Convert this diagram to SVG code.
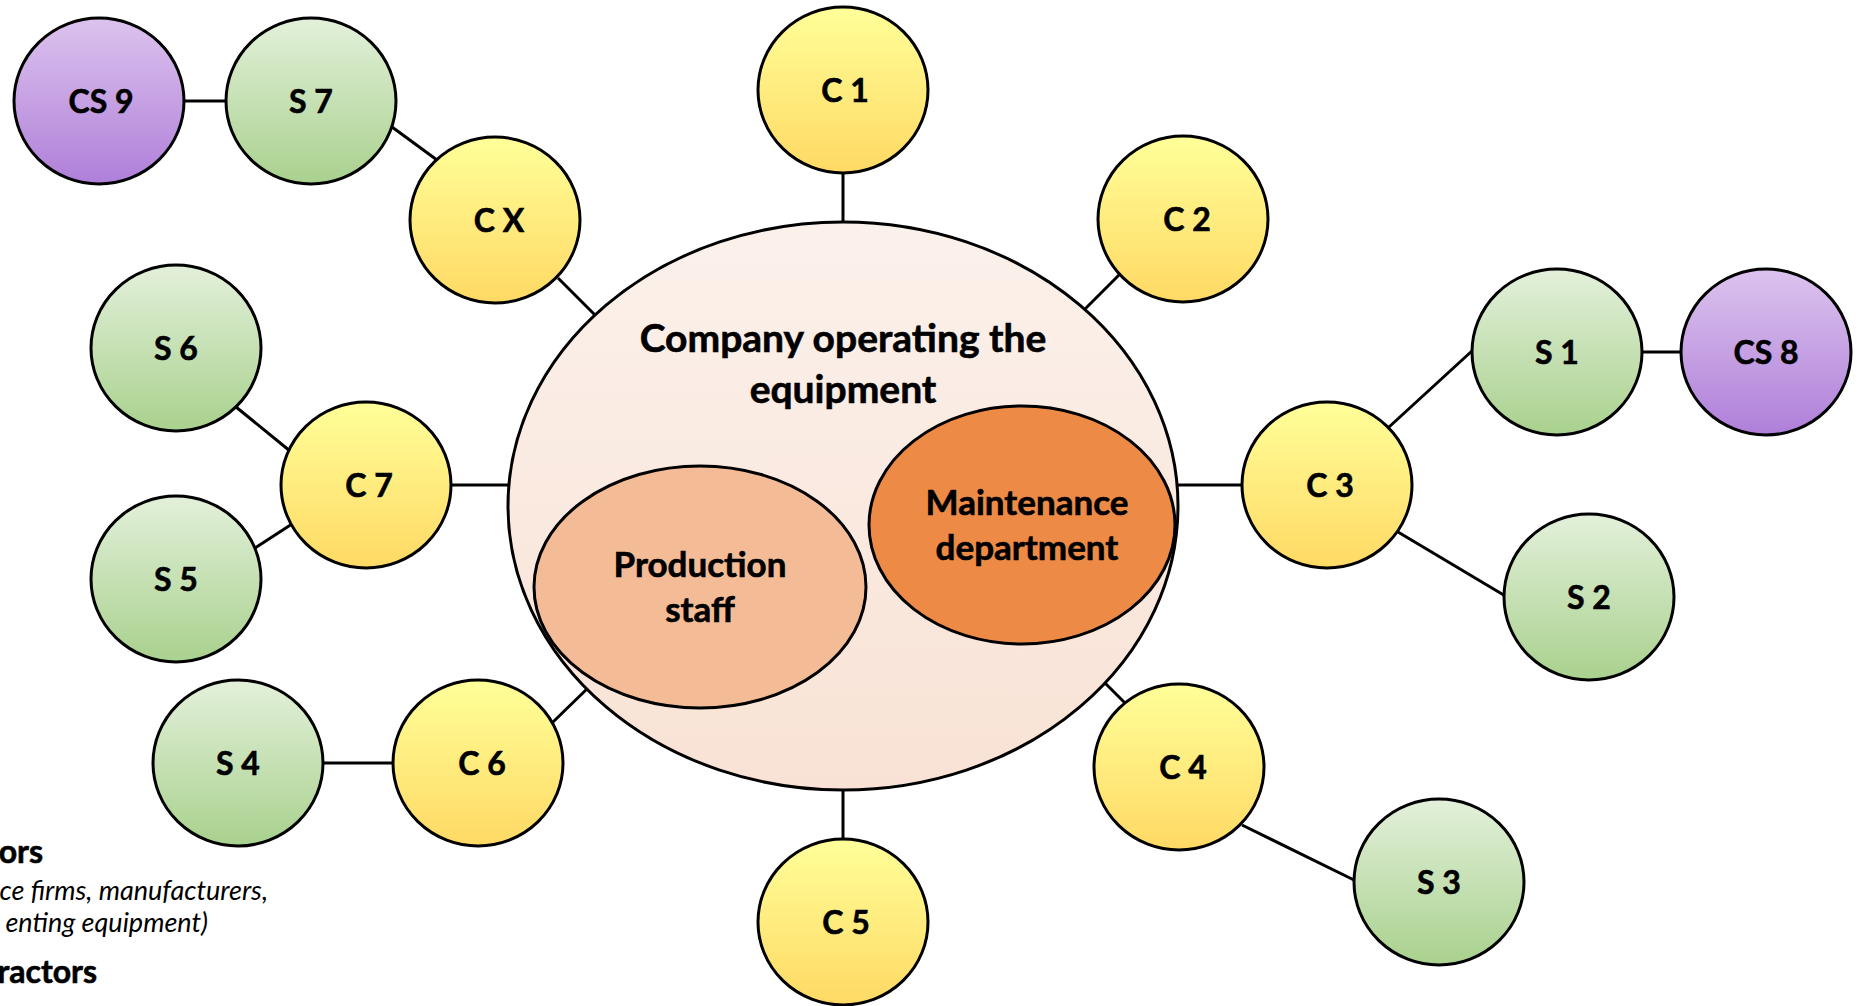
<svg xmlns="http://www.w3.org/2000/svg" width="1861" height="1006" viewBox="0 0 1861 1006">
  <style>
    .node { stroke: #000; stroke-width: 3; }
    .yel { fill: url(#gYellow); }
    .grn { fill: url(#gGreen); }
    .pur { fill: url(#gPurple); }
    .lbl, .big, .leg { font-family: Lato, "Open Sans", "Liberation Sans", sans-serif; font-weight: 700; fill: #000; stroke: #000; stroke-width: 0.6px; }
    .lbl { font-size: 32px; text-anchor: middle; }
    .big { font-size: 35px; text-anchor: middle; }
    .title { font-size: 39px; }
    .leg { font-size: 32px; text-anchor: end; }
    .legi { font-family: Lato, "Open Sans", "Liberation Sans", sans-serif; font-style: italic; font-size: 27px; fill: #000; text-anchor: end; }
    #connectors line { stroke: #000; stroke-width: 3; }
  </style>
  <defs>
    <linearGradient id="gYellow" x1="0" y1="0" x2="0" y2="1">
      <stop offset="0" stop-color="#FFFF99"/>
      <stop offset="1" stop-color="#FFD964"/>
    </linearGradient>
    <linearGradient id="gGreen" x1="0" y1="0" x2="0" y2="1">
      <stop offset="0" stop-color="#E3F0DA"/>
      <stop offset="1" stop-color="#A9D18E"/>
    </linearGradient>
    <linearGradient id="gPurple" x1="0" y1="0" x2="0" y2="1">
      <stop offset="0" stop-color="#DCC3EE"/>
      <stop offset="1" stop-color="#AF7FD9"/>
    </linearGradient>
    <linearGradient id="gCompany" x1="0" y1="0" x2="0" y2="1">
      <stop offset="0" stop-color="#FBF1EB"/>
      <stop offset="1" stop-color="#F9E2D5"/>
    </linearGradient>
  </defs>

  <rect width="1861" height="1006" fill="#fff"/>

  <!-- links between the parties -->
  <g id="connectors">
    <line x1="180" y1="101" x2="230" y2="101"/>
    <line x1="392" y1="127" x2="437" y2="160"/>
    <line x1="558" y1="278" x2="596" y2="316"/>
    <line x1="843" y1="170" x2="843" y2="226"/>
    <line x1="1119" y1="275" x2="1084" y2="310"/>
    <line x1="236" y1="407" x2="290" y2="451"/>
    <line x1="255" y1="548" x2="292" y2="524"/>
    <line x1="448" y1="485" x2="512" y2="485"/>
    <line x1="320" y1="763" x2="396" y2="763"/>
    <line x1="553" y1="722" x2="590" y2="686"/>
    <line x1="843" y1="786" x2="843" y2="842"/>
    <line x1="1102" y1="680" x2="1127" y2="705"/>
    <line x1="1242" y1="825" x2="1356" y2="881"/>
    <line x1="1174" y1="485" x2="1245" y2="485"/>
    <line x1="1389" y1="427" x2="1473" y2="350"/>
    <line x1="1398" y1="532" x2="1507" y2="597"/>
    <line x1="1638" y1="352" x2="1685" y2="352"/>
  </g>

  <!-- operating company with its two internal units -->
  <g id="company">
    <ellipse class="node" cx="843" cy="506" rx="335" ry="284" fill="url(#gCompany)"/>
    <text class="big title" x="843" y="352">Company operating the</text>
    <text class="big title" x="843" y="403">equipment</text>
  </g>
  <g id="production">
    <ellipse class="node" cx="700" cy="587" rx="166" ry="121" fill="#F4BC96"/>
    <text class="big" x="700" y="577">Production</text>
    <text class="big" x="700" y="622">staff</text>
  </g>
  <g id="maintenance">
    <ellipse class="node" cx="1022" cy="525" rx="153" ry="119" fill="#ED8B46"/>
    <text class="big" x="1027" y="515">Maintenance</text>
    <text class="big" x="1027" y="560">department</text>
  </g>

  <!-- contractors -->
  <g id="c1"><ellipse class="node yel" cx="843" cy="90" rx="85" ry="83"/><text class="lbl" x="845" y="102">C 1</text></g>
  <g id="c2"><ellipse class="node yel" cx="1183" cy="219" rx="85" ry="83"/><text class="lbl" x="1187" y="231">C 2</text></g>
  <g id="c3"><ellipse class="node yel" cx="1327" cy="485" rx="85" ry="83"/><text class="lbl" x="1330" y="497">C 3</text></g>
  <g id="c4"><ellipse class="node yel" cx="1179" cy="767" rx="85" ry="83"/><text class="lbl" x="1183" y="779">C 4</text></g>
  <g id="c5"><ellipse class="node yel" cx="843" cy="922" rx="85" ry="83"/><text class="lbl" x="846" y="934">C 5</text></g>
  <g id="c6"><ellipse class="node yel" cx="478" cy="763" rx="85" ry="83"/><text class="lbl" x="482" y="775">C 6</text></g>
  <g id="c7"><ellipse class="node yel" cx="366" cy="485" rx="85" ry="83"/><text class="lbl" x="369" y="497">C 7</text></g>
  <g id="cx"><ellipse class="node yel" cx="495" cy="220" rx="85" ry="83"/><text class="lbl" x="499" y="232">C X</text></g>

  <!-- subcontractors -->
  <g id="s1"><ellipse class="node grn" cx="1557" cy="352" rx="85" ry="83"/><text class="lbl" x="1557" y="364">S 1</text></g>
  <g id="s2"><ellipse class="node grn" cx="1589" cy="597" rx="85" ry="83"/><text class="lbl" x="1589" y="609">S 2</text></g>
  <g id="s3"><ellipse class="node grn" cx="1439" cy="882" rx="85" ry="83"/><text class="lbl" x="1439" y="894">S 3</text></g>
  <g id="s4"><ellipse class="node grn" cx="238" cy="763" rx="85" ry="83"/><text class="lbl" x="238" y="775">S 4</text></g>
  <g id="s5"><ellipse class="node grn" cx="176" cy="579" rx="85" ry="83"/><text class="lbl" x="176" y="591">S 5</text></g>
  <g id="s6"><ellipse class="node grn" cx="176" cy="348" rx="85" ry="83"/><text class="lbl" x="176" y="360">S 6</text></g>
  <g id="s7"><ellipse class="node grn" cx="311" cy="101" rx="85" ry="83"/><text class="lbl" x="311" y="113">S 7</text></g>

  <!-- contractors of subcontractors -->
  <g id="cs8"><ellipse class="node pur" cx="1766" cy="352" rx="85" ry="83"/><text class="lbl" x="1766" y="364">CS 8</text></g>
  <g id="cs9"><ellipse class="node pur" cx="99" cy="101" rx="85" ry="83"/><text class="lbl" x="101" y="113">CS 9</text></g>

  <!-- legend, running off the left edge -->
  <g id="legend">
    <text class="leg" x="43" y="863">ors</text>
    <text class="legi" x="268" y="900">ce firms, manufacturers,</text>
    <text class="legi" x="208" y="932">enting equipment)</text>
    <text class="leg" x="97" y="983">ractors</text>
  </g>
</svg>
